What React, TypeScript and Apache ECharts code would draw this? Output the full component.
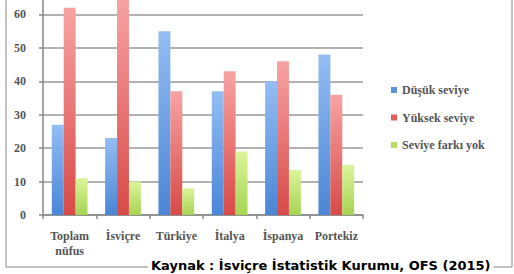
import React, { useEffect, useRef } from "react";
import * as echarts from "echarts";

const categories = ["Toplam\nnüfus", "İsviçre", "Türkiye", "İtalya", "İspanya", "Portekiz"];
const seriesNames = ["Düşük seviye", "Yüksek seviye", "Seviye farkı yok"];
const dusuk = [27, 23, 55, 37, 40, 48];
const yuksek = [62, 65, 37, 43, 46, 36];
const fark = [11, 10, 8, 19, 13.5, 15];
const caption = "Kaynak : İsviçre İstatistik Kurumu, OFS (2015)";

const grad = (top: string, bottom: string) =>
  new echarts.graphic.LinearGradient(0, 0, 0, 1, [
    { offset: 0, color: top },
    { offset: 1, color: bottom },
  ]);

export default function App() {
  const ref = useRef<HTMLDivElement>(null);
  useEffect(() => {
    if (!ref.current) return;
    const chart = echarts.init(ref.current, undefined, { renderer: "svg" });
    const serif = "Liberation Serif";
    const colors = [
      grad("#93bdf3", "#4a86d6"),
      grad("#f7a3a3", "#d84a47"),
      grad("#dcf49a", "#a6d454"),
    ];
    const solid = ["#5b93e0", "#e35c5a", "#b4dc66"];
    const vals = [dusuk, yuksek, fark];
    chart.setOption({
      animation: false,
      backgroundColor: "#ffffff",
      grid: {
        left: 43,
        right: 151,
        top: -19,
        bottom: 59,
        containLabel: false,
        outerBoundsMode: "none",
      },
      legend: {
        orient: "vertical",
        left: 386,
        top: 79,
        itemWidth: 6,
        itemHeight: 6,
        itemGap: 15.5,
        icon: "rect",
        textStyle: { fontFamily: serif, fontSize: 12, color: "#555", fontWeight: "bold" },
        data: seriesNames.map((n, i) => ({ name: n, itemStyle: { color: solid[i] } })),
      },
      xAxis: {
        type: "category",
        data: categories,
        axisLine: { lineStyle: { color: "#888", width: 1.5 } },
        axisTick: { show: true, length: 4, lineStyle: { color: "#888", width: 1.5 } },
        axisLabel: {
          fontFamily: serif,
          fontSize: 12,
          color: "#555",
          fontWeight: "bold",
          margin: 13,
          lineHeight: 15,
          interval: 0,
        },
      },
      yAxis: {
        type: "value",
        min: 0,
        max: 70,
        interval: 10,
        axisLine: { show: true, lineStyle: { color: "#888", width: 1.5 } },
        axisTick: { show: true, length: 4, lineStyle: { color: "#888", width: 1.5 } },
        splitLine: { lineStyle: { color: "#999", width: 1.5 } },
        axisLabel: {
          fontFamily: serif,
          fontSize: 12,
          color: "#555",
          fontWeight: "bold",
          margin: 17,
          showMaxLabel: false,
        },
      },
      series: seriesNames.map((n, i) => ({
        name: n,
        type: "bar",
        data: vals[i],
        barGap: "0%",
        barCategoryGap: "33%",
        itemStyle: { color: colors[i] },
      })),
      graphic: [
        {
          type: "rect",
          shape: { x: 6, y: -10, width: 506, height: 277 },
          style: { fill: "none", stroke: "#888", lineWidth: 1 },
          silent: true,
          z: 0,
        },
        {
          type: "text",
          left: 148,
          top: 259,
          style: {
            text: caption,
            fontFamily: "DejaVu Sans",
            fontWeight: "bold",
            fontSize: 13,
            fill: "#000",
            backgroundColor: "#fff",
            padding: [0, 3, 0, 3],
          },
          z: 10,
        },
      ],
    });
    return () => chart.dispose();
  }, []);
  return (
    <div
      ref={ref}
      style={{ position: "fixed", left: 0, top: 0, width: 514, height: 274, background: "#fff" }}
    />
  );
}
